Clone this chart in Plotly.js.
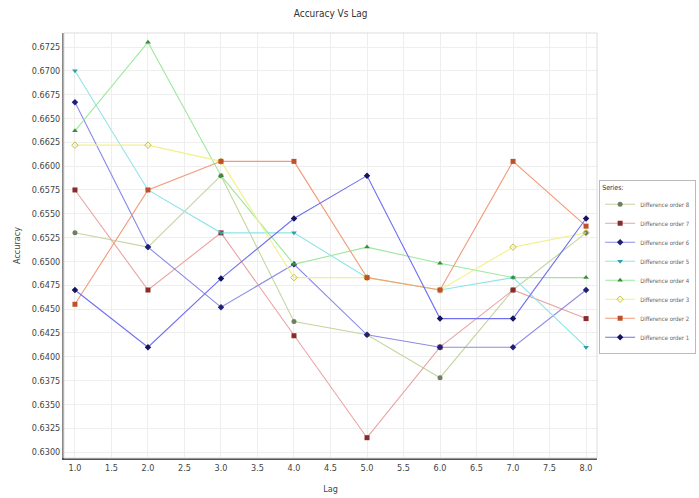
<!DOCTYPE html>
<html>
<head>
<meta charset="utf-8">
<script src="https://cdn.plot.ly/plotly-3.0.1.min.js"></script>
<style>html,body{margin:0;padding:0;background:#fff;}#chart{width:699px;height:498px;}</style>
</head>
<body>
<div id="chart"></div>
<script>
const lags = [1, 2, 3, 4, 5, 6, 7, 8];
const seriesNames = ["Difference order 8", "Difference order 7", "Difference order 6", "Difference order 5",
                     "Difference order 4", "Difference order 3", "Difference order 2", "Difference order 1"];
const order8 = [0.6530, 0.6515, 0.6590, 0.6437, 0.6423, 0.6378, 0.6470, 0.6530];
const order7 = [0.6575, 0.6470, 0.6530, 0.6422, 0.6315, 0.6410, 0.6470, 0.6440];
const order6 = [0.6667, 0.6515, 0.6452, 0.6497, 0.6423, 0.6410, 0.6410, 0.6470];
const order5 = [0.6700, 0.6575, 0.6530, 0.6530, 0.6483, 0.6470, 0.6483, 0.6410];
const order4 = [0.6637, 0.6730, 0.6590, 0.6497, 0.6515, 0.6498, 0.6483, 0.6483];
const order3 = [0.6622, 0.6622, 0.6605, 0.6483, 0.6483, 0.6470, 0.6515, 0.6530];
const order2 = [0.6455, 0.6575, 0.6605, 0.6605, 0.6483, 0.6470, 0.6605, 0.6537];
const order1 = [0.6470, 0.6410, 0.6482, 0.6545, 0.6590, 0.6440, 0.6440, 0.6545];

const values = [order8, order7, order6, order5, order4, order3, order2, order1];
const lineColors = ["#c4d6a0", "#e9a3a3", "#8c8ce6", "#8fe3e8", "#9ce89c", "#f2f08c", "#f29a78", "#6f6ff0"];
const markerColors = ["#6f8060", "#8a2a2a", "#20207a", "#2aa0a8", "#3c8c3c", "#c8c040", "#c0502a", "#14145e"];
const symbols = ["circle", "square", "diamond", "triangle-down", "triangle-up", "diamond-open", "square", "diamond"];

const traces = values.map((v, i) => ({
  type: "scatter",
  mode: "lines+markers",
  name: seriesNames[i],
  x: lags,
  y: v,
  line: {color: lineColors[i], width: 1.1},
  marker: {color: markerColors[i], symbol: symbols[i], size: 5, line: {width: symbols[i].endsWith("open") ? 1 : 0, color: markerColors[i]}}
}));

const font = "Liberation Sans Narrow, Arial Narrow, DejaVu Sans Condensed, sans-serif";

const layout = {
  width: 699, height: 498,
  margin: {l: 64, r: 102, t: 33, b: 40, autoexpand: false},
  paper_bgcolor: "#ffffff",
  plot_bgcolor: "#ffffff",
  font: {family: font, size: 9, color: "#444"},
  title: {text: "Accuracy Vs Lag", font: {family: font, size: 10, color: "#333"}, x: 0.473, xanchor: "center", y: 0.972, yanchor: "middle"},
  xaxis: {
    range: [0.85, 8.15], dtick: 0.5, tick0: 1, tickformat: ".1f",
    showgrid: true, gridcolor: "#eeeeee", gridwidth: 1,
    showline: true, linecolor: "#555", linewidth: 2,
    zeroline: false, ticks: "", ticklen: 0,
    tickfont: {family: font, size: 9, color: "#444"},
    title: {text: "Lag", font: {family: font, size: 9, color: "#444"}, standoff: 14}
  },
  yaxis: {
    range: [0.62937, 0.67397], dtick: 0.0025, tick0: 0.63, tickformat: ".4f",
    showgrid: true, gridcolor: "#eeeeee", gridwidth: 1,
    showline: true, linecolor: "#888", linewidth: 2,
    zeroline: false, ticks: "",
    tickfont: {family: font, size: 9, color: "#444"},
    title: {text: "Accuracy", font: {family: font, size: 9, color: "#444"}, standoff: 10}
  },
  showlegend: true,
  legend: {
    x: 1.004, xanchor: "left", y: 0.655, yanchor: "top",
    bordercolor: "#bbbbbb", borderwidth: 1, bgcolor: "#ffffff",
    font: {family: font, size: 6, color: "#666"},
    title: {text: "Series:", font: {family: font, size: 7, color: "#333"}},
    tracegroupgap: 0, itemwidth: 30
  },
  shapes: [{type: "rect", xref: "paper", yref: "paper", x0: 0, x1: 1, y0: 0, y1: 1, line: {color: "#dddddd", width: 1}}]
};

Plotly.newPlot("chart", traces, layout, {displayModeBar: false, staticPlot: true});
</script>
</body>
</html>
